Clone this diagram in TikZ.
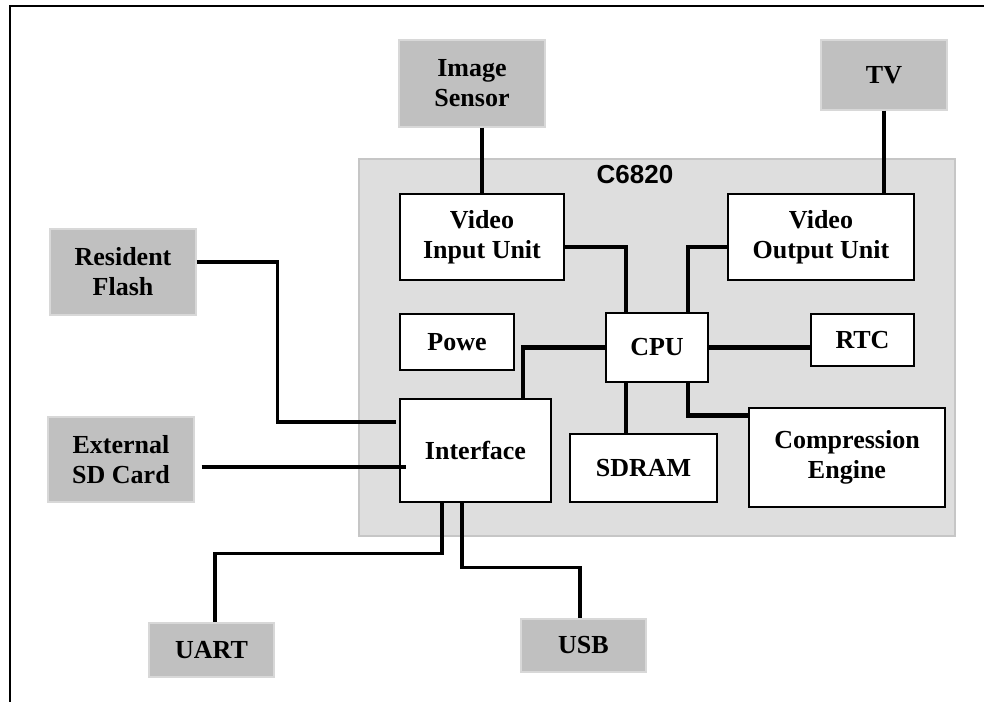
\documentclass[tikz,border=0pt]{standalone}
\usepackage{fontspec}
\setmainfont{Liberation Serif}
\setsansfont{Liberation Sans}
\usetikzlibrary{positioning}

\definecolor{extgray}{HTML}{C0C0C0}
\definecolor{extedge}{HTML}{D8D8D8}
\definecolor{chipgray}{HTML}{DEDEDE}
\definecolor{chipedge}{HTML}{C6C6C6}
\newcommand{\boxfont}{\fontsize{13}{15}\selectfont\bfseries}

\tikzset{
  ext/.style={fill=extgray, draw=extedge, line width=0.6pt, inner sep=0pt, align=center, font=\boxfont},
  unit/.style={fill=white, draw=black, line width=0.8pt, inner sep=0pt, align=center, font=\boxfont},
  chip/.style={fill=chipgray, draw=chipedge, line width=0.8pt, inner sep=0pt},
  bus/.style={line width=2.4pt},
  wire/.style={line width=1.6pt},
}

\begin{document}
\begin{tikzpicture}[x=0.5pt, y=-0.5pt]
  \useasboundingbox (0,0) rectangle (984,702);

  % Frame
  \draw[line width=1pt] (984,6) -- (10,6) -- (10,702);

  % Define nodes
  \node[chip, minimum width=298pt, minimum height=188.5pt] (chip) at (657,347.5) {};
  \node[font=\sffamily\bfseries\fontsize{13}{15}\selectfont] (chipname) at (635,175) {C6820};

  \node[ext, minimum width=73pt, minimum height=43.5pt]   (isens) at (472,83.5) {Image\\Sensor};
  \node[ext, minimum width=63pt, minimum height=35pt]     (tv)    at (884,75)   {TV};
  \node[ext, minimum width=73pt, minimum height=43pt]     (flash) at (123,272)  {Resident\\Flash};
  \node[ext, minimum width=73pt, minimum height=42.5pt]   (sd)    at (121,459.5) {External\\SD Card};
  \node[ext, minimum width=62.5pt, minimum height=27pt]   (uart)  at (211.5,650) {UART};
  \node[ext, minimum width=62.5pt, minimum height=26.5pt] (usb)   at (583.5,645.5) {USB};

  \node[unit, minimum width=82pt, minimum height=43pt]    (vin)   at (482,237)   {Video\\Input Unit};
  \node[unit, minimum width=93pt, minimum height=43pt]    (vout)  at (821,237)   {Video\\Output Unit};
  \node[unit, minimum width=57pt, minimum height=28pt]    (powe)  at (457,342)   {Powe};
  \node[unit, minimum width=51pt, minimum height=34.5pt]  (cpu)   at (657,347.5) {CPU};
  \node[unit, minimum width=51.5pt, minimum height=26pt]  (rtc)   at (862.5,340) {RTC};
  \node[unit, minimum width=75.5pt, minimum height=51.5pt] (iface) at (475.5,450.5) {Interface};
  \node[unit, minimum width=73.5pt, minimum height=34pt]  (sdram) at (643.5,468)  {SDRAM};
  \node[unit, minimum width=98pt, minimum height=49.5pt]  (comp)  at (847,457.5)  {Compression\\Engine};

  % Connect the nodes
  \draw[wire] (isens.south -| vin.north) -- (vin.north);
  \draw[wire] (tv.south) -- (tv.south |- vout.north);
  \draw[bus] ([yshift=-5pt]vin.east) -| ([xshift=-15.5pt]cpu.north);
  \draw[bus] ([yshift=-5pt]vout.west) -| ([xshift=15.5pt]cpu.north);
  \draw[bus] (cpu.east) -- (cpu.east -| rtc.west);
  \draw[bus] (cpu.west) -| ([xshift=23.75pt]iface.north);
  \draw[bus] ([xshift=-15.5pt]cpu.south) -- ([xshift=-15.5pt]cpu.south |- sdram.north);
  \draw[bus] ([xshift=15.5pt]cpu.south) |- ([yshift=-4pt]comp.north west);
  \draw[wire] ([yshift=5pt]flash.east) -- ++(81,0) |- ([xshift=-1.5pt,yshift=14.25pt]iface.west);
  \draw[wire] ([xshift=3.5pt,yshift=-3.75pt]sd.east) -- ([xshift=3.5pt,yshift=-3.75pt]sd.east -| iface.west);
  \draw[wire] ([xshift=-16.75pt]iface.south) -- ++(0,51) -| ([xshift=1.75pt]uart.north);
  \draw[wire] ([xshift=-6.75pt]iface.south) -- ++(0,65) -| ([xshift=-1.75pt]usb.north);

\end{tikzpicture}
\end{document}
